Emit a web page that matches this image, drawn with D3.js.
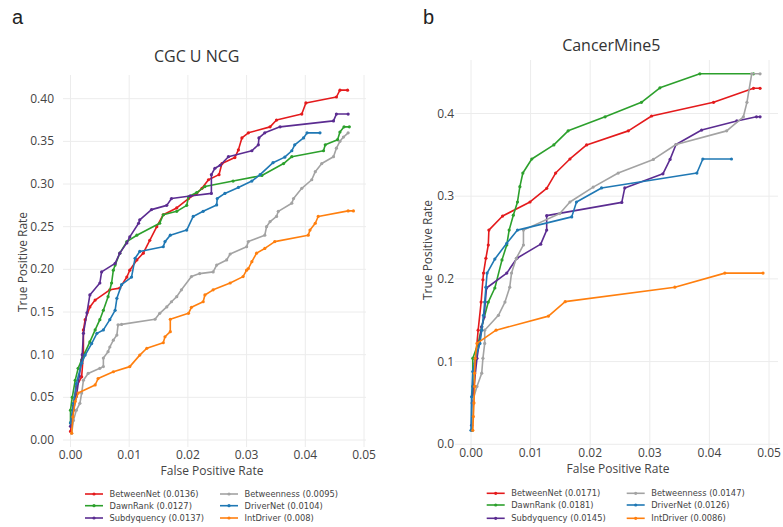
<!DOCTYPE html>
<html><head><meta charset="utf-8">
<script src="https://cdn.jsdelivr.net/npm/d3@7/dist/d3.min.js"></script>
<style>body{margin:0;background:#fff}svg{display:block;font-family:"Open Sans",sans-serif}</style>
</head><body><svg id="c" width="783" height="527"></svg>
<script>
// ---------- DATA ----------
const seriesNames = ["BetweenNet","DawnRank","Subdyquency","Betweenness","DriverNet","IntDriver"];
const seriesColors = ["#e41a1c","#2ca02c","#5b2c91","#a3a3a3","#1f78b4","#ff7f0e"];
const aucA = ["0.0136","0.0127","0.0137","0.0095","0.0104","0.008"];
const aucB = ["0.0171","0.0181","0.0145","0.0147","0.0126","0.0086"];
const panelTitles = ["CGC U NCG","CancerMine5"];
const panelLetters = ["a","b"];
const xTicks = [0,0.01,0.02,0.03,0.04,0.05];
const yTicksA = [0,0.05,0.1,0.15,0.2,0.25,0.3,0.35,0.4];
const yTicksB = [0,0.1,0.2,0.3,0.4];

// Panel a (CGC U NCG): [FPR, TPR]
const a_BetweenNet = [[0,0.01],[0.0005,0.04],[0.001,0.0625],[0.0019,0.074],[0.0022,0.102],[0.0022,0.129],[0.0025,0.141],[0.0033,0.156],[0.0042,0.164],[0.0067,0.176],[0.0084,0.178],[0.0096,0.191],[0.0101,0.199],[0.0113,0.211],[0.0124,0.219],[0.0135,0.234],[0.0147,0.25],[0.0158,0.264],[0.0181,0.272],[0.0201,0.283],[0.0215,0.289],[0.0224,0.295],[0.0235,0.305],[0.0253,0.311],[0.0258,0.324],[0.028,0.331],[0.0286,0.34],[0.0292,0.354],[0.0303,0.36],[0.034,0.367],[0.0351,0.375],[0.0394,0.382],[0.0401,0.395],[0.0453,0.402],[0.0459,0.41],[0.0472,0.41]];
const a_DawnRank = [[0,0.02],[0,0.035],[0.0003,0.05],[0.0008,0.07],[0.0013,0.084],[0.0019,0.094],[0.0033,0.115],[0.0042,0.129],[0.005,0.141],[0.0056,0.152],[0.0064,0.168],[0.007,0.184],[0.0073,0.199],[0.0076,0.205],[0.0084,0.219],[0.0096,0.2325],[0.0113,0.24],[0.0152,0.254],[0.0158,0.264],[0.0181,0.268],[0.0198,0.275],[0.0201,0.285],[0.0215,0.29],[0.0229,0.297],[0.0277,0.3035],[0.0326,0.31],[0.0363,0.324],[0.0377,0.332],[0.0431,0.339],[0.0434,0.346],[0.0455,0.352],[0.0459,0.361],[0.0466,0.367],[0.0475,0.367]];
const a_Subdyquency = [[0,0.016],[0.0005,0.035],[0.001,0.051],[0.0015,0.075],[0.002,0.1],[0.0022,0.125],[0.0028,0.149],[0.0033,0.17],[0.005,0.184],[0.0053,0.197],[0.0076,0.207],[0.0084,0.219],[0.0096,0.231],[0.0101,0.238],[0.0116,0.254],[0.0118,0.258],[0.0138,0.27],[0.0164,0.275],[0.0172,0.283],[0.0204,0.286],[0.024,0.289],[0.024,0.311],[0.0246,0.3185],[0.0255,0.322],[0.0269,0.332],[0.0309,0.339],[0.032,0.346],[0.0321,0.354],[0.0331,0.36],[0.0357,0.367],[0.0448,0.374],[0.0453,0.382],[0.0473,0.382]];
const a_Betweenness = [[0.0002,0.008],[0.0005,0.023],[0.001,0.035],[0.0016,0.043],[0.0019,0.055],[0.0022,0.07],[0.003,0.078],[0.005,0.084],[0.0056,0.086],[0.0056,0.096],[0.0064,0.1035],[0.0067,0.109],[0.0073,0.117],[0.0079,0.123],[0.0081,0.135],[0.0087,0.1355],[0.0144,0.1415],[0.0152,0.1485],[0.0164,0.156],[0.0172,0.162],[0.0181,0.168],[0.0189,0.176],[0.0206,0.1915],[0.022,0.195],[0.0243,0.197],[0.0249,0.205],[0.0266,0.211],[0.0272,0.218],[0.03,0.2265],[0.0303,0.2325],[0.0331,0.24],[0.0334,0.25],[0.034,0.256],[0.0351,0.262],[0.0354,0.268],[0.0377,0.2775],[0.038,0.283],[0.0394,0.295],[0.0411,0.305],[0.0417,0.3145],[0.0428,0.324],[0.0448,0.332],[0.0453,0.342],[0.0459,0.35],[0.0465,0.355],[0.0473,0.36]];
const a_DriverNet = [[0,0.02],[0.0005,0.043],[0.001,0.066],[0.0019,0.09],[0.0025,0.0995],[0.0036,0.113],[0.0045,0.125],[0.0056,0.129],[0.0067,0.141],[0.0076,0.152],[0.0079,0.166],[0.0087,0.182],[0.0104,0.191],[0.011,0.213],[0.0118,0.221],[0.0158,0.2265],[0.0161,0.2325],[0.017,0.24],[0.0198,0.246],[0.0209,0.262],[0.0226,0.268],[0.0249,0.2755],[0.025,0.283],[0.0263,0.289],[0.0286,0.296],[0.0309,0.3035],[0.0323,0.311],[0.0345,0.325],[0.0365,0.3315],[0.0377,0.339],[0.0382,0.346],[0.0397,0.354],[0.0403,0.36],[0.0425,0.36]];
const a_IntDriver = [[0.0002,0.008],[0.0004,0.027],[0.0008,0.045],[0.0013,0.055],[0.0042,0.0645],[0.0047,0.072],[0.0073,0.08],[0.0101,0.086],[0.0118,0.0995],[0.013,0.1075],[0.0158,0.114],[0.0161,0.121],[0.017,0.127],[0.017,0.1415],[0.0201,0.1485],[0.0206,0.1555],[0.0226,0.162],[0.0229,0.17],[0.0243,0.176],[0.0272,0.184],[0.0294,0.1915],[0.03,0.199],[0.0303,0.201],[0.0309,0.209],[0.0317,0.219],[0.0331,0.2245],[0.0348,0.2325],[0.0405,0.24],[0.0408,0.246],[0.0417,0.254],[0.0422,0.262],[0.0473,0.2685],[0.0482,0.2685]];

// Panel b (CancerMine5): [FPR, TPR]
const b_BetweenNet = [[0.0002,0.017],[0.0004,0.05],[0.0007,0.098],[0.0012,0.138],[0.0017,0.172],[0.002,0.199],[0.0021,0.207],[0.0025,0.225],[0.0029,0.241],[0.003,0.259],[0.0053,0.276],[0.0099,0.293],[0.0127,0.3095],[0.0142,0.328],[0.0166,0.345],[0.0194,0.362],[0.0264,0.379],[0.0303,0.397],[0.0407,0.4135],[0.0474,0.4305],[0.0485,0.4305]];
const b_DawnRank = [[0.0002,0.017],[0.0003,0.07],[0.0003,0.104],[0.0012,0.122],[0.0018,0.142],[0.0029,0.172],[0.004,0.189],[0.0052,0.223],[0.006,0.241],[0.0064,0.259],[0.0071,0.277],[0.0078,0.293],[0.0082,0.3115],[0.0087,0.328],[0.0102,0.345],[0.0139,0.362],[0.0163,0.379],[0.0225,0.396],[0.0286,0.4135],[0.0317,0.431],[0.0384,0.448],[0.0474,0.448]];
const b_Subdyquency = [[0.0001,0.023],[0.0002,0.05],[0.0005,0.07],[0.001,0.104],[0.0018,0.142],[0.0022,0.154],[0.0024,0.172],[0.0026,0.189],[0.006,0.207],[0.0077,0.225],[0.0117,0.242],[0.0127,0.259],[0.0127,0.2765],[0.0253,0.2925],[0.0258,0.31],[0.0322,0.327],[0.0334,0.3445],[0.0344,0.3625],[0.0387,0.38],[0.0446,0.391],[0.0479,0.396],[0.0485,0.396]];
const b_Betweenness = [[0.0001,0.017],[0.0004,0.0555],[0.001,0.07],[0.0018,0.086],[0.002,0.104],[0.0023,0.122],[0.0023,0.138],[0.0046,0.156],[0.0057,0.172],[0.0065,0.19],[0.0068,0.207],[0.0076,0.225],[0.0088,0.241],[0.0088,0.259],[0.0149,0.279],[0.0166,0.293],[0.0205,0.311],[0.0247,0.328],[0.0306,0.3445],[0.0344,0.3625],[0.0429,0.379],[0.0457,0.396],[0.0463,0.4135],[0.0471,0.448],[0.0485,0.448]];
const b_DriverNet = [[0,0.017],[0.0001,0.0575],[0.0003,0.088],[0.0007,0.104],[0.0015,0.122],[0.0018,0.138],[0.0021,0.156],[0.0023,0.172],[0.0025,0.19],[0.0027,0.207],[0.004,0.224],[0.006,0.243],[0.0078,0.259],[0.0169,0.275],[0.0177,0.293],[0.0219,0.31],[0.0379,0.328],[0.0389,0.345],[0.0437,0.345]];
const b_IntDriver = [[0.0003,0.017],[0.0004,0.0335],[0.0005,0.05],[0.0006,0.07],[0.0006,0.086],[0.0007,0.104],[0.001,0.122],[0.0042,0.138],[0.013,0.155],[0.0158,0.1725],[0.0342,0.19],[0.0426,0.207],[0.049,0.207]];

const panelA = [a_BetweenNet,a_DawnRank,a_Subdyquency,a_Betweenness,a_DriverNet,a_IntDriver];
const panelB = [b_BetweenNet,b_DawnRank,b_Subdyquency,b_Betweenness,b_DriverNet,b_IntDriver];

// ---------- DRAW ----------
const svg = d3.select("#c");
const panels = [
  {series:panelA, auc:aucA, yTicks:yTicksA, yFmt:".2f",
   xr:[70.5,364], yr:[440,98.7], box:[63,366,75,447],
   title:[196.7,62], letter:[12,24], xt:[212,475], yt:[27,262], xtick:459, ytickR:54,
   leg:{x1:85,x2:220,rows:[494,505.7,518]}},
  {series:panelB, auc:aucB, yTicks:yTicksB, yFmt:".1f",
   xr:[471,769], yr:[444.3,113.5], box:[455,778,60,452],
   title:[611.3,51], letter:[423,24], xt:[618,473], yt:[432,250], xtick:457, ytickR:454,
   leg:{x1:486.7,x2:626.7,rows:[493.3,505,518.3]}}
];

panels.forEach((p,pi)=>{
  const x = d3.scaleLinear().domain([0,0.05]).range(p.xr);
  const y = d3.scaleLinear().domain([0,0.4]).range(p.yr);
  const g = svg.append("g");
  const [bx0,bx1,by0,by1] = p.box;
  // grid
  g.append("g").selectAll("line").data(xTicks).join("line")
    .attr("x1",d=>x(d)).attr("x2",d=>x(d)).attr("y1",by0).attr("y2",by1)
    .attr("stroke","#ececec").attr("stroke-width",1);
  g.append("g").selectAll("line").data(p.yTicks).join("line")
    .attr("y1",d=>y(d)).attr("y2",d=>y(d)).attr("x1",bx0).attr("x2",bx1)
    .attr("stroke","#ececec").attr("stroke-width",1);
  // tick labels
  g.append("g").selectAll("text").data(xTicks).join("text")
    .attr("x",d=>x(d)).attr("y",p.xtick).attr("text-anchor","middle")
    .attr("font-size",12).attr("fill","#444").text(d=>d3.format(".2f")(d));
  g.append("g").selectAll("text").data(p.yTicks).join("text")
    .attr("x",p.ytickR).attr("y",d=>y(d)+4).attr("text-anchor","end")
    .attr("font-size",12).attr("fill","#444").text(d=>d3.format(p.yFmt)(d));
  // titles
  g.append("text").attr("x",p.title[0]).attr("y",p.title[1]).attr("text-anchor","middle")
    .attr("font-size",16).attr("fill","#333").text(panelTitles[pi]);
  g.append("text").attr("x",p.letter[0]).attr("y",p.letter[1])
    .attr("font-size",20).attr("font-family","Liberation Sans, Arial, sans-serif").attr("fill","#222").text(panelLetters[pi]);
  g.append("text").attr("x",p.xt[0]).attr("y",p.xt[1]).attr("text-anchor","middle")
    .attr("font-size",12).attr("fill","#444").text("False Positive Rate");
  g.append("text").attr("transform",`translate(${p.yt[0]},${p.yt[1]}) rotate(-90)`).attr("text-anchor","middle")
    .attr("font-size",12).attr("fill","#444").text("True Positive Rate");
  // series
  const line = d3.line().x(d=>x(d[0])).y(d=>y(d[1]));
  p.series.forEach((s,si)=>{
    const sg = g.append("g");
    sg.append("path").datum(s).attr("d",line).attr("fill","none")
      .attr("stroke",seriesColors[si]).attr("stroke-width",1.6).attr("stroke-linejoin","round");
    sg.selectAll("circle").data(s).join("circle")
      .attr("cx",d=>x(d[0])).attr("cy",d=>y(d[1])).attr("r",1.6).attr("fill",seriesColors[si]);
  });
  // legend
  seriesNames.forEach((n,si)=>{
    const col = si<3?0:1, row = si%3;
    const lx = col===0?p.leg.x1:p.leg.x2, ly = p.leg.rows[row];
    const lg = g.append("g");
    lg.append("line").attr("x1",lx).attr("x2",lx+18).attr("y1",ly).attr("y2",ly)
      .attr("stroke",seriesColors[si]).attr("stroke-width",1.6);
    lg.append("circle").attr("cx",lx+9).attr("cy",ly).attr("r",1.6).attr("fill",seriesColors[si]);
    lg.append("text").attr("x",lx+24.5).attr("y",ly+3).attr("font-size",8.3)
      .attr("font-family","DejaVu Sans, sans-serif").attr("fill","#444")
      .text(`${n} (${p.auc[si]})`);
  });
});
</script></body></html>
